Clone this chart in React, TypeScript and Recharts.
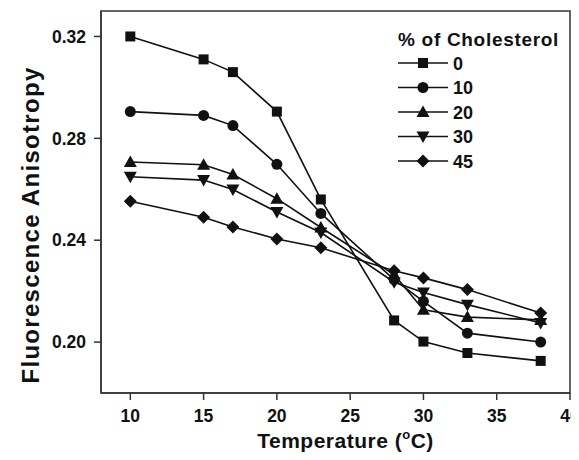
import React from 'react';
import {Legend, Line, LineChart, ReferenceArea, XAxis, YAxis} from 'recharts';

// Temperature points (°C)
const temperatures = [10, 15, 17, 20, 23, 28, 30, 33, 38];

// Fluorescence anisotropy for each cholesterol fraction
const chol0 = [0.320, 0.311, 0.306, 0.2905, 0.256, 0.2085, 0.2002, 0.1957, 0.1926];
const chol10 = [0.2905, 0.289, 0.285, 0.2698, 0.2505, 0.2245, 0.216, 0.2035, 0.200];
const chol20 = [0.2707, 0.2696, 0.2658, 0.2563, 0.2450, 0.2265, 0.2127, 0.2098, 0.2087];
const chol30 = [0.2649, 0.2636, 0.2599, 0.2511, 0.2430, 0.2235, 0.2195, 0.2147, 0.2075];
const chol45 = [0.2553, 0.249, 0.2452, 0.2405, 0.237, 0.228, 0.2252, 0.2206, 0.2114];

const seriesNames = ['0', '10', '20', '30', '45'];
const seriesShapes = ['square', 'circle', 'triangle', 'triangleDown', 'diamond'];
const seriesValues = [chol0, chol10, chol20, chol30, chol45];

const xTicks = [10, 15, 20, 25, 30, 35, 40];
const yTicks = [0.20, 0.24, 0.28, 0.32];

const X_DOMAIN: [number, number] = [8, 40];
const Y_DOMAIN: [number, number] = [0.18, 0.33];

const FONT = '"Liberation Sans", Arial, sans-serif';
const INK = '#111';
const AXIS = '#333';

const data = temperatures.map((t, i) => {
    const row: Record<string, number> = {temp: t};
    seriesNames.forEach((name, s) => {
        row['c' + name] = seriesValues[s][i];
    });
    return row;
});

function Marker({cx, cy, shape}: { cx: number; cy: number; shape: string }) {
    if (cx == null || cy == null) return null;
    switch (shape) {
        case 'square':
            return <rect x={cx - 5} y={cy - 5} width={10} height={10} fill={INK} />;
        case 'circle':
            return <circle cx={cx} cy={cy} r={5.5} fill={INK} />;
        case 'triangle':
            return <polygon points={`${cx},${cy - 6.5} ${cx + 6.5},${cy + 5} ${cx - 6.5},${cy + 5}`} fill={INK} />;
        case 'triangleDown':
            return <polygon points={`${cx},${cy + 6.5} ${cx + 6.5},${cy - 5} ${cx - 6.5},${cy - 5}`} fill={INK} />;
        default:
            return <polygon points={`${cx},${cy - 6.5} ${cx + 6.5},${cy} ${cx},${cy + 6.5} ${cx - 6.5},${cy}`} fill={INK} />;
    }
}

// plain svg text so the last label is never wrapped or dropped
const XTick = (props: any) => {
    const {x, y, payload} = props;
    return (
        <text x={x} y={y} dy="0.71em" textAnchor="middle" fontFamily={FONT} fontWeight="bold"
              fontSize={17.5} fill={INK}>
            {payload.value}
        </text>
    );
};

const renderLegend = () => (
    <svg width={175} height={160} style={{display: 'block', overflow: 'visible'}}>
        <text x={2} y={16} fontFamily={FONT} fontWeight="bold" fontSize={19} fill={INK} letterSpacing={0.7}>
            % of Cholesterol
        </text>
        {seriesNames.map((name, i) => {
            const cy = 33 + i * 24.5;
            return (
                <g key={name}>
                    <line x1={2} x2={52} y1={cy} y2={cy} stroke={INK} strokeWidth={1.5} />
                    <Marker cx={27} cy={cy} shape={seriesShapes[i]} />
                    <text x={57} y={cy + 6.5} fontFamily={FONT} fontWeight="bold" fontSize={18} fill={INK}>
                        {name}
                    </text>
                </g>
            );
        })}
    </svg>
);

const XLabel = (props: any) => {
    const {x, y, width} = props.viewBox;
    return (
        <text x={x + width / 2 + 10} y={y + 55} textAnchor="middle" fontFamily={FONT} fontWeight="bold"
              fontSize={21} fill={INK} letterSpacing={0.5}>
            Temperature (<tspan fontSize={13} dy={-9}>o</tspan><tspan dy={9}>C)</tspan>
        </text>
    );
};

const YLabel = (props: any) => {
    const {y, height} = props.viewBox;
    const cx = 22;
    const cy = y + height / 2 + 23;
    return (
        <text x={cx} y={cy} transform={`rotate(-90, ${cx}, ${cy})`} textAnchor="middle" dominantBaseline="central"
              fontFamily={FONT} fontWeight="bold" fontSize={24} fill={INK} letterSpacing={1.3}>
            Fluorescence Anisotropy
        </text>
    );
};

export default function App() {
    // fixed box, clipped so the page never grows a scrollbar
    return (
        <div style={{width: 571, height: 444, overflow: 'hidden'}}>
            <LineChart
                width={571}
                height={444}
                data={data}
                margin={{top: 3, right: 9, bottom: 0, left: 0}}
                style={{display: 'block', overflow: 'visible'}}
            >
                <XAxis
                    dataKey="temp"
                    type="number"
                    domain={X_DOMAIN}
                    ticks={xTicks}
                    interval={0}
                    height={59}
                    tickSize={7}
                    tickMargin={10}
                    stroke={AXIS}
                    strokeWidth={1.5}
                    tick={<XTick />}
                    label={<XLabel />}
                    allowDataOverflow
                />
                <YAxis
                    type="number"
                    domain={Y_DOMAIN}
                    ticks={yTicks}
                    interval={0}
                    width={93}
                    tickSize={7}
                    tickMargin={8}
                    stroke={AXIS}
                    strokeWidth={1.5}
                    tickFormatter={(v: number) => v.toFixed(2)}
                    tick={{fill: INK, fontFamily: FONT, fontWeight: 'bold', fontSize: 17.5}}
                    label={<YLabel />}
                    allowDataOverflow
                />
                {/* closes the plot frame on the top and right */}
                <ReferenceArea x1={X_DOMAIN[0]} x2={X_DOMAIN[1]} y1={Y_DOMAIN[0]} y2={Y_DOMAIN[1]}
                               fill="none" stroke={AXIS} strokeWidth={1.5} ifOverflow="visible" />
                {seriesNames.map((name, i) => (
                    <Line
                        key={name}
                        dataKey={'c' + name}
                        name={name}
                        stroke={INK}
                        strokeWidth={1.6}
                        isAnimationActive={false}
                        dot={(p: any) => <Marker key={`${name}-${p.index}`} cx={p.cx} cy={p.cy} shape={seriesShapes[i]} />}
                    />
                ))}
                <Legend
                    layout="vertical"
                    align="center"
                    verticalAlign="middle"
                    content={renderLegend}
                    wrapperStyle={{position: 'absolute', left: 388, top: 22, width: 175, height: 160}}
                />
            </LineChart>
        </div>
    );
}
